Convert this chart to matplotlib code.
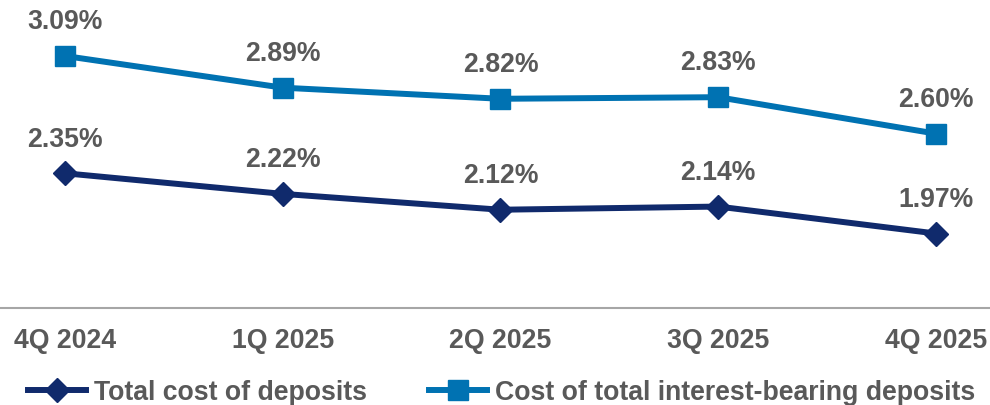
import matplotlib
matplotlib.use("Agg")
import matplotlib.pyplot as plt

quarters = ["4Q 2024", "1Q 2025", "2Q 2025", "3Q 2025", "4Q 2025"]
total_cost = [2.35, 2.22, 2.12, 2.14, 1.97]
interest_bearing = [3.09, 2.89, 2.82, 2.83, 2.60]

NAVY = "#102A6C"
BLUE = "#0072B2"
GRAY = "#595959"
FONT = "Liberation Sans"
FS = 19.2

plt.rcParams["font.family"] = [FONT, "DejaVu Sans"]

fig = plt.figure(figsize=(9.9, 4.06), dpi=100)
ax = fig.add_axes([0.0, 0.2389, 1.0, 0.7611])

x = list(range(len(quarters)))
ax.plot(x, total_cost, color=NAVY, lw=4.3, marker="D", markersize=12,
        label="Total cost of deposits")
ax.plot(x, interest_bearing, color=BLUE, lw=4.3, marker="s", markersize=15,
        label="Cost of total interest-bearing deposits")

for series in (total_cost, interest_bearing):
    for xi, v in zip(x, series):
        ax.annotate(f"{v:.2f}%", (xi, v), xytext=(0, 25), textcoords="offset points",
                    ha="center", va="center", fontsize=FS, fontweight="bold", color=GRAY)

ax.set_xlim(-0.2985, 4.248)
ax.set_ylim(1.5, 3.4495)
ax.set_xticks(x)
ax.set_xticklabels(quarters, fontsize=FS, fontweight="bold", color=GRAY)
ax.tick_params(axis="x", length=0, pad=14)
ax.set_yticks([])
for side in ["top", "left", "right"]:
    ax.spines[side].set_visible(False)
ax.spines["bottom"].set_color("#A6A6A6")
ax.spines["bottom"].set_linewidth(1.5)

leg = fig.legend(loc="center left", bbox_to_anchor=(0.028, 0.031), ncol=2, frameon=False,
                 prop={"family": FONT, "weight": "bold", "size": FS},
                 handlelength=2.2, handletextpad=0.3, columnspacing=2.3,
                 borderpad=0, borderaxespad=0)
for t in leg.get_texts():
    t.set_color(GRAY)

fig.savefig("out.png", dpi=100)
